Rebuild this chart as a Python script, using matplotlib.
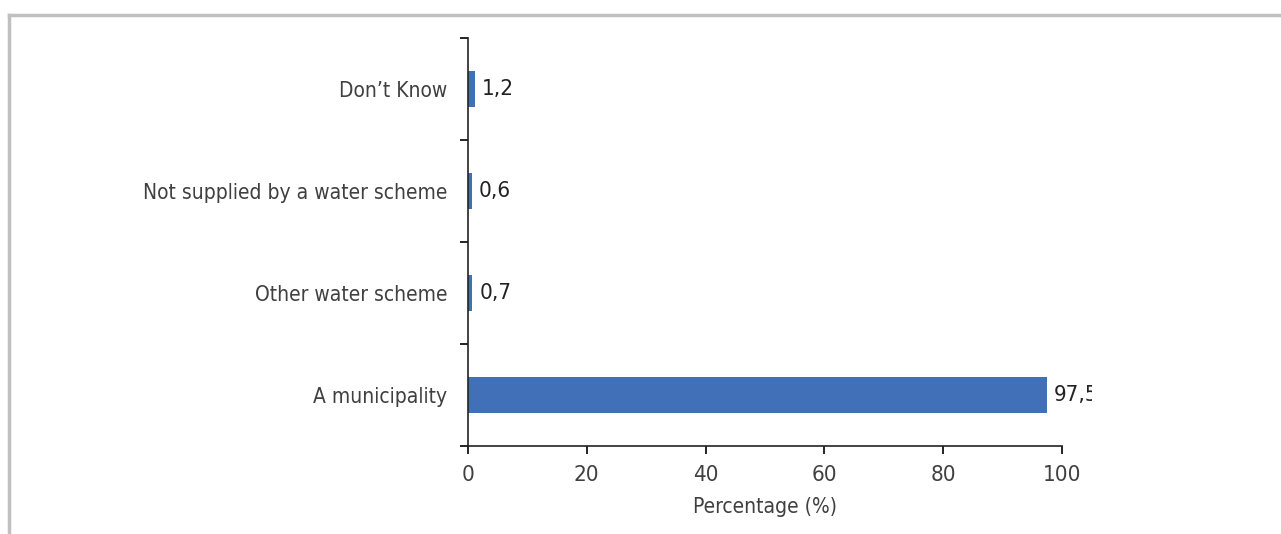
import matplotlib
matplotlib.use("Agg")
import matplotlib.pyplot as plt
from matplotlib.lines import Line2D
from matplotlib.transforms import Bbox

categories = ["A municipality", "Other water scheme", "Not supplied by a water scheme", "Don\u2019t Know"]
values = [97.5, 0.7, 0.6, 1.2]
value_labels = ["97,5", "0,7", "0,6", "1,2"]
xticks = [0, 20, 40, 60, 80, 100]

plt.rcParams['font.family'] = ['DejaVu Sans']
plt.rcParams['font.stretch'] = 'condensed'
text_color = '#404040'
bar_color = '#4170B8'

fig = plt.figure(figsize=(12.81, 5.34), dpi=100)
ax = fig.add_axes([468/1281, 1-446/534, (1062-468)/1281, (446-38)/534])

ypos = list(range(len(categories)))
ax.barh(ypos, values, height=0.35, color=bar_color)
ax.set_xlim(0, 100)
ax.set_ylim(-0.5, len(categories)-0.5)

ax.set_yticks(ypos)
ax.set_yticklabels(categories, fontsize=15, color=text_color)
ax.set_yticks([i - 0.5 for i in range(len(categories)+1)], minor=True)
ax.tick_params(axis='y', which='major', length=0, pad=15)
ax.tick_params(axis='y', which='minor', length=6, direction='out', width=1.2)

ax.set_xticks(xticks)
ax.set_xticklabels([str(t) for t in xticks], fontsize=16, color=text_color)
ax.tick_params(axis='x', length=6, direction='out', width=1.2, pad=8)
ax.set_xlabel("Percentage (%)", fontsize=15, color=text_color, labelpad=8)

for s in ['top', 'right']:
    ax.spines[s].set_visible(False)
for s in ['left', 'bottom']:
    ax.spines[s].set_linewidth(1.2)
    ax.spines[s].set_color('#222222')

clip = Bbox.from_extents(0, 0, 1092, 534)
for y, v, lab in zip(ypos, values, value_labels):
    t = ax.annotate(lab, xy=(v, y), xytext=(7, 0), textcoords='offset pixels',
                    va='center', ha='left', fontsize=16, color='#222222')
    t.set_clip_box(clip)
    t.set_clip_on(True)

# outer frame lines (top and left)
fig.add_artist(Line2D([9/1281, 9/1281], [0, 1-15/534], transform=fig.transFigure, color='#c0c0c0', lw=2.5))
fig.add_artist(Line2D([9/1281, 1], [1-15/534, 1-15/534], transform=fig.transFigure, color='#c0c0c0', lw=2.5))

fig.savefig("out.png", dpi=100)
